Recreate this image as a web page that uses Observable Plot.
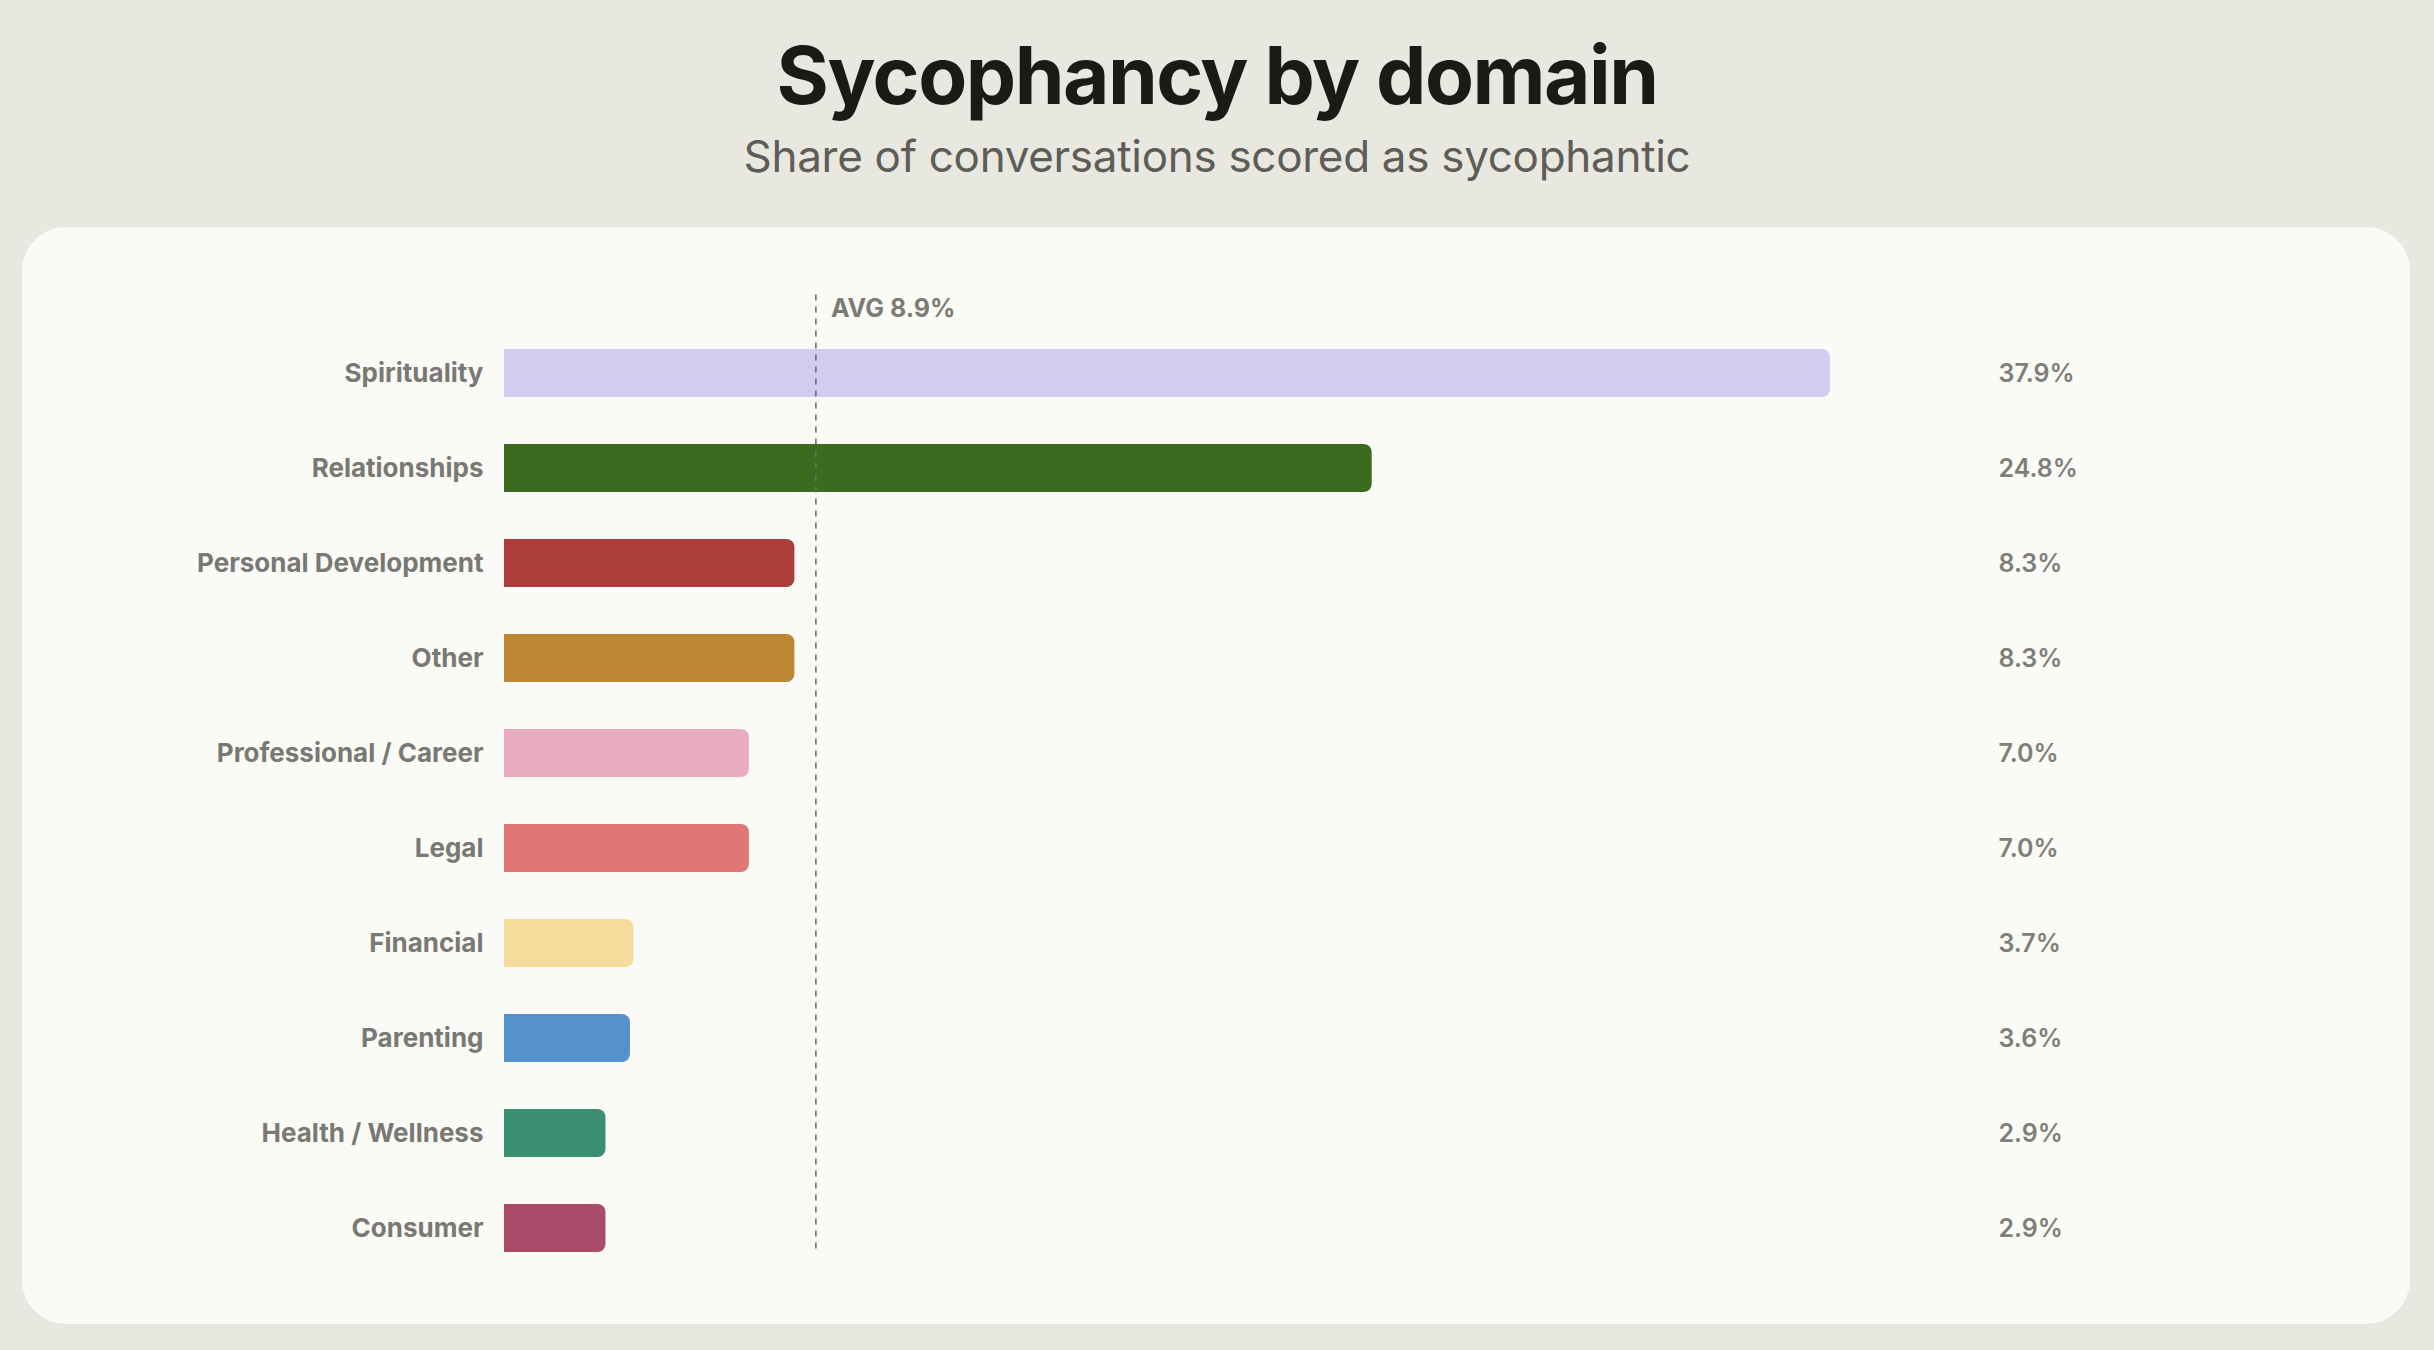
<!DOCTYPE html>
<html>
<head>
<meta charset="utf-8">
<script src="https://cdn.jsdelivr.net/npm/d3@7"></script>
<script src="https://cdn.jsdelivr.net/npm/@observablehq/plot@0.6"></script>
<style>
  html, body { margin: 0; padding: 0; }
  body { width: 2434px; height: 1350px; background: #e9e8e0; position: relative; overflow: hidden; font-family: Inter, "Noto Sans", sans-serif; }
  #title { position: absolute; left: 0; width: 2434px; top: 35px; text-align: center; font-size: 80px; font-weight: 700; color: #1a1a17; letter-spacing: -1.5px; line-height: 1; }
  #subtitle { position: absolute; left: 0; width: 2434px; top: 134px; text-align: center; font-size: 44px; font-weight: 400; color: #5e5d58; line-height: 1; letter-spacing: -0.3px; }
  #card { position: absolute; left: 22px; top: 227px; width: 2388px; height: 1097px; background: #fafaf6; border-radius: 44px; overflow: hidden; }
  #card svg { display: block; }
</style>
</head>
<body>
<div id="title">Sycophancy by domain</div>
<div id="subtitle">Share of conversations scored as sycophantic</div>
<div id="card"></div>
<script>
const domains = ["Spirituality", "Relationships", "Personal Development", "Other", "Professional / Career", "Legal", "Financial", "Parenting", "Health / Wellness", "Consumer"];
const shares = [37.9, 24.8, 8.3, 8.3, 7.0, 7.0, 3.7, 3.6, 2.9, 2.9];
const colors = ["#d0cdf0", "#3b6b1f", "#ad3d3b", "#be8734", "#e8adc0", "#e07676", "#f5dc9c", "#5591cc", "#3a8e72", "#a94b69"];
const average = 8.9;
const averageLabel = "AVG 8.9%";

const rows = domains.map((d, i) => ({domain: d, share: shares[i], color: colors[i], label: shares[i].toFixed(1) + "%"}));

const chart = Plot.plot({
  width: 2388,
  height: 1097,
  marginTop: 72.5,
  marginBottom: 23.5,
  marginLeft: 482,
  marginRight: 580,
  style: {background: "transparent", fontFamily: "Inter, 'Noto Sans', sans-serif"},
  x: {domain: [0, 37.9], axis: null},
  y: {domain: domains, padding: 0.5, label: null},
  marks: [
    Plot.barX(rows, {y: "domain", x: "share", fill: "color", rx2: 8}),
    Plot.ruleX([average], {stroke: "#6f6e6a", strokeWidth: 1.6, strokeDasharray: "6,6", insetTop: -5, insetBottom: 46}),
    Plot.text([averageLabel], {x: average, frameAnchor: "top", dx: 15, dy: -1, textAnchor: "start", fontSize: 25, fontWeight: 700, fill: "#7d7b76"}),
    Plot.text(rows, {y: "domain", text: "label", frameAnchor: "right", dx: 168, textAnchor: "start", fontSize: 25, fontWeight: 600, fill: "#7f7e7a"}),
    Plot.axisY({tickSize: 0, tickPadding: 21, fontSize: 26, fontWeight: 700, fill: "#7a7874", label: null})
  ]
});
document.getElementById("card").appendChild(chart);
</script>
</body>
</html>
